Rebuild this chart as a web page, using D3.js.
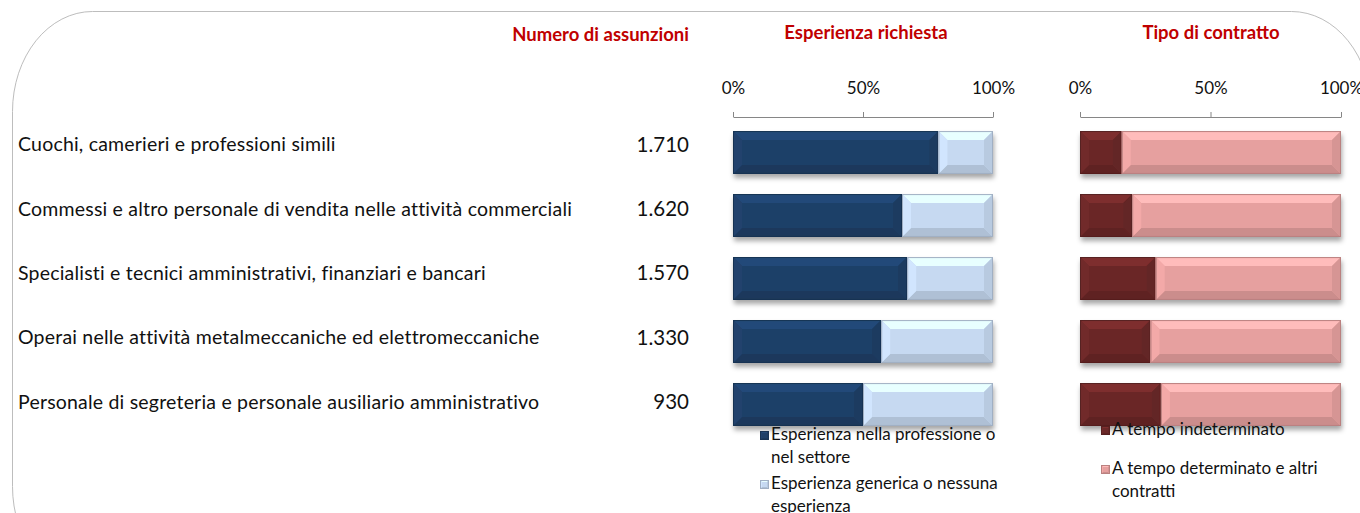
<!DOCTYPE html>
<html>
<head>
<meta charset="utf-8">
<script src="https://cdn.jsdelivr.net/npm/d3@7"></script>
<style>
  body { margin: 0; background: #fff; }
  text { font-family: Lato, "Open Sans", sans-serif; }
</style>
</head>
<body>
<div id="chart"></div>
<script>
document.addEventListener("DOMContentLoaded", function () {

  // Data
  const categories = [
    'Cuochi, camerieri e professioni simili',
    'Commessi e altro personale di vendita nelle attività commerciali',
    'Specialisti e tecnici amministrativi, finanziari e bancari',
    'Operai nelle attività metalmeccaniche ed elettromeccaniche',
    'Personale di segreteria e personale ausiliario amministrativo'
  ];
  const hires = ['1.710', '1.620', '1.570', '1.330', '930'];
  const expSettore = [79, 65, 67, 57, 50];      // % esperienza nella professione o nel settore
  const tempoIndet = [16, 20, 29, 27, 31];      // % a tempo indeterminato
  const tickValues = [0, 50, 100];
  const expLegend = [
    ['Esperienza nella professione o', 'nel settore'],
    ['Esperienza generica o nessuna', 'esperienza']
  ];
  const contrLegend = [
    ['A tempo indeterminato'],
    ['A tempo determinato e altri', 'contratti']
  ];

  const W = 1360, H = 513;
  const red = '#C00000';
  const expColors = ['#1F3F67', '#C6D9F1'];
  const contrColors = ['#6B2828', '#E6A09F'];

  const svg = d3.select('#chart').append('svg')
    .attr('width', W)
    .attr('height', H);

  const defs = svg.append('defs');
  const shadow = defs.append('filter').attr('id', 'shadow')
    .attr('x', '-5%').attr('y', '-20%').attr('width', '110%').attr('height', '160%');
  shadow.append('feDropShadow')
    .attr('dx', 1).attr('dy', 4).attr('stdDeviation', 2.5)
    .attr('flood-color', '#000').attr('flood-opacity', 0.35);

  // Frame
  svg.append('rect')
    .attr('x', 12.5).attr('y', 11.5)
    .attr('width', 1359).attr('height', 575)
    .attr('rx', 80).attr('ry', 100)
    .attr('fill', 'none')
    .attr('stroke', '#BDBDBD')
    .attr('stroke-width', 1);

  // Scales
  const y = d3.scaleBand()
    .domain(categories)
    .range([121, 436])
    .paddingInner(0.32)
    .paddingOuter(0.16);

  const xExp = d3.scaleLinear().domain([0, 100]).range([733, 993]);
  const xCon = d3.scaleLinear().domain([0, 100]).range([1080, 1341]);

  // Titles
  const titleFont = '18.5px';
  svg.append('text')
    .attr('x', 689).attr('y', 41)
    .attr('text-anchor', 'end')
    .attr('font-size', titleFont).attr('font-weight', 'bold')
    .attr('fill', red)
    .text('Numero di assunzioni');
  svg.append('text')
    .attr('x', 866).attr('y', 39)
    .attr('text-anchor', 'middle')
    .attr('font-size', titleFont).attr('font-weight', 'bold')
    .attr('fill', red)
    .text('Esperienza richiesta');
  svg.append('text')
    .attr('x', 1211).attr('y', 39)
    .attr('text-anchor', 'middle')
    .attr('font-size', titleFont).attr('font-weight', 'bold')
    .attr('fill', red)
    .text('Tipo di contratto');

  // Category labels and numbers
  categories.forEach((c, i) => {
    const cy = y(c) + y.bandwidth() / 2 - 6 + i * 1.3;
    svg.append('text')
      .attr('x', 18).attr('y', cy)
      .attr('dominant-baseline', 'middle')
      .attr('font-size', '19.5px')
      .attr('letter-spacing', '0.2px')
      .attr('fill', '#111')
      .text(c);
    svg.append('text')
      .attr('x', 689).attr('y', cy)
      .attr('text-anchor', 'end')
      .attr('dominant-baseline', 'middle')
      .attr('font-size', '20.5px')
      .attr('fill', '#111')
      .text(hires[i]);
  });

  // Axes (ticks pointing up, labels above)
  function drawAxis(scale) {
    const g = svg.append('g').attr('transform', 'translate(0,117)');
    g.call(d3.axisTop(scale)
      .tickValues(tickValues)
      .tickSize(5)
      .tickSizeOuter(0)
      .tickFormat(d => d + '%'));
    g.select('.domain').attr('stroke', '#868686');
    g.selectAll('.tick line').attr('stroke', '#868686');
    g.selectAll('.tick text')
      .attr('y', -23)
      .attr('font-size', '17px')
      .attr('font-family', 'Lato, sans-serif')
      .attr('fill', '#111');
  }
  drawAxis(xExp);
  drawAxis(xCon);

  // Beveled bar segment
  function bevelRect(g, x0, x1, y0, y1, color, b) {
    const c = d3.color(color);
    b = Math.min(b, (x1 - x0) / 2, (y1 - y0) / 2);
    g.append('rect')
      .attr('x', x0).attr('y', y0)
      .attr('width', x1 - x0).attr('height', y1 - y0)
      .attr('fill', color);
    const poly = (pts, fill) => g.append('polygon')
      .attr('points', pts.map(p => p.join(',')).join(' '))
      .attr('fill', fill);
    poly([[x0, y0], [x1, y0], [x1 - b, y0 + b], [x0 + b, y0 + b]], c.brighter(0.45));
    poly([[x0, y1], [x1, y1], [x1 - b, y1 - b], [x0 + b, y1 - b]], c.darker(0.35));
    poly([[x0, y0], [x0 + b, y0 + b], [x0 + b, y1 - b], [x0, y1]], c.brighter(0.15));
    poly([[x1, y0], [x1 - b, y0 + b], [x1 - b, y1 - b], [x1, y1]], c.darker(0.2));
    g.append('rect')
      .attr('x', x0 + 0.5).attr('y', y0 + 0.5)
      .attr('width', x1 - x0 - 1).attr('height', y1 - y0 - 1)
      .attr('fill', 'none')
      .attr('stroke', c.darker(0.6))
      .attr('stroke-width', 1);
  }

  function drawBars(scale, values, colors) {
    categories.forEach((c, i) => {
      const g = svg.append('g').attr('filter', 'url(#shadow)');
      const y0 = y(c), y1 = y(c) + y.bandwidth();
      bevelRect(g, scale(0), scale(values[i]), y0, y1, colors[0], 9);
      bevelRect(g, scale(values[i]), scale(100), y0, y1, colors[1], 9);
    });
  }
  drawBars(xExp, expSettore, expColors);
  drawBars(xCon, tempoIndet, contrColors);

  // Legends
  function drawLegend(x, items, colors, startY, gap) {
    let ly = startY;
    items.forEach((lines, i) => {
      const g = svg.append('g');
      bevelRect(g, x, x + 9, ly - 5, ly + 4, colors[i], 2);
      lines.forEach((t, j) => {
        svg.append('text')
          .attr('x', x + 11).attr('y', ly + j * 23)
          .attr('dominant-baseline', 'middle')
          .attr('font-size', '17px')
          .attr('fill', '#111')
          .text(t);
      });
      ly += gap[i];
    });
  }
  drawLegend(760, expLegend, expColors, 436, [49]);
  drawLegend(1101, contrLegend, contrColors, 431, [39]);
});
</script>
</body>
</html>
